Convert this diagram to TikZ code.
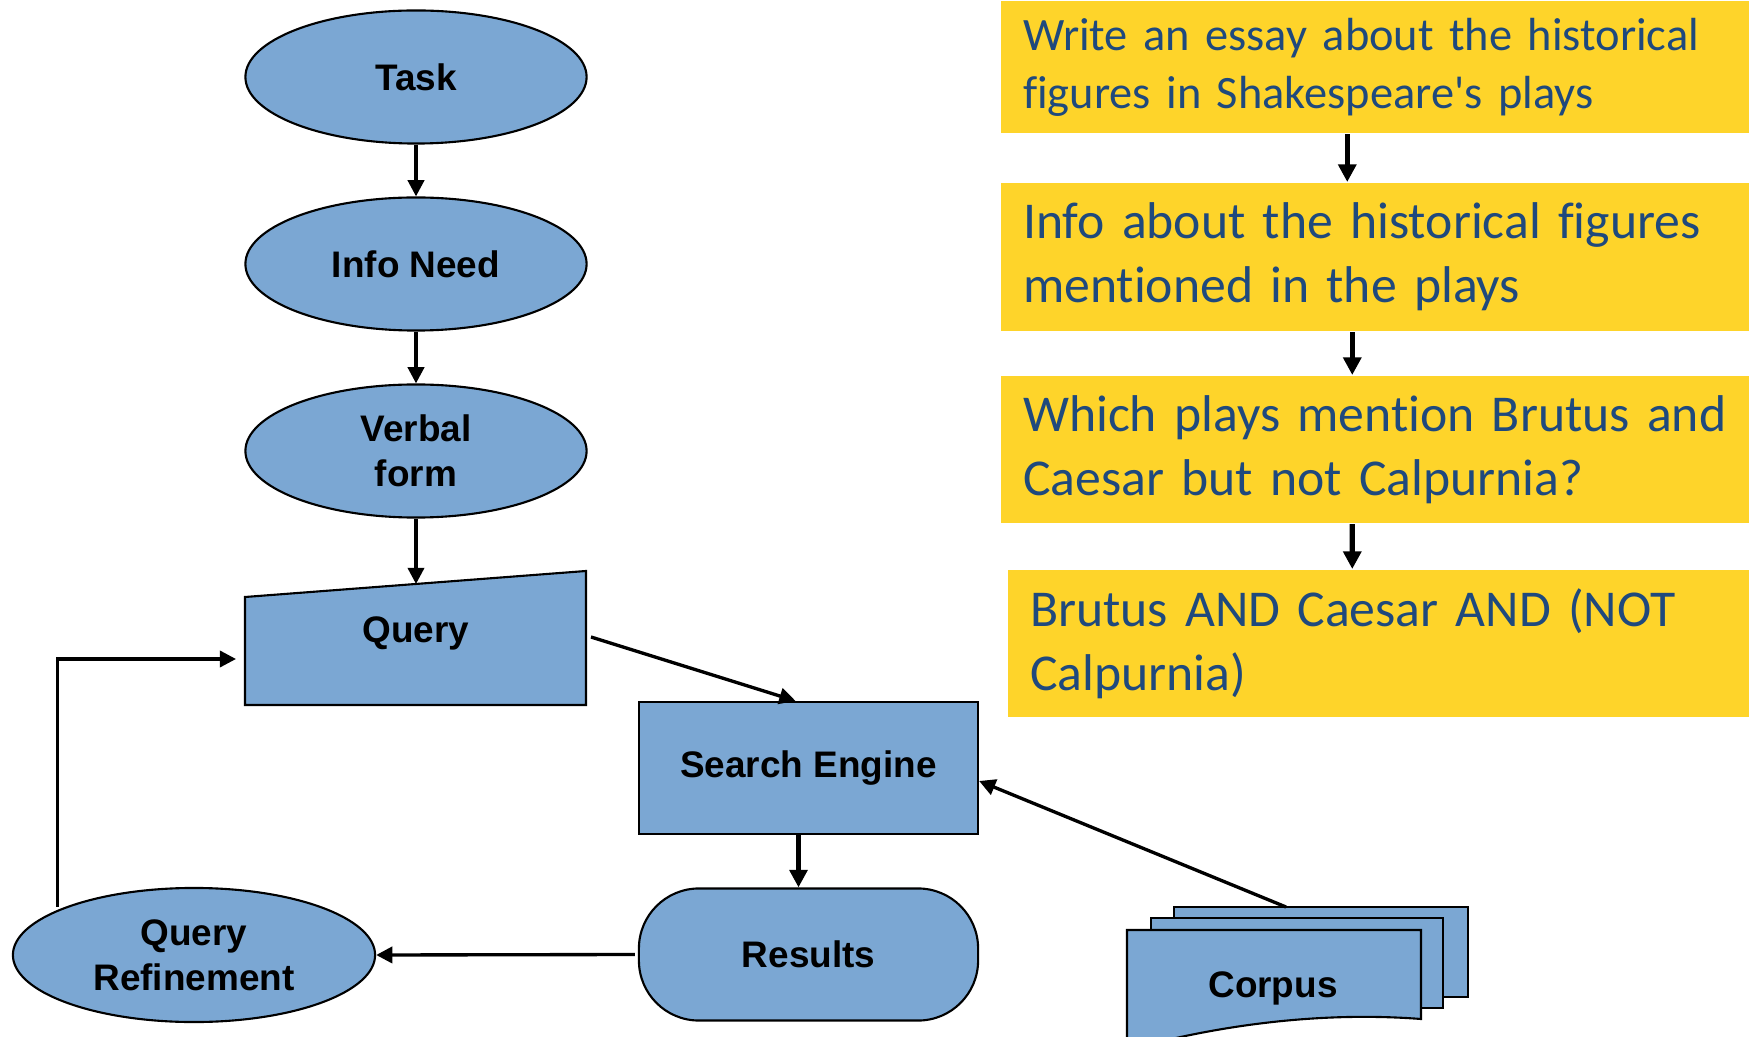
\documentclass[tikz,border=0pt]{standalone}
\usepackage{fontspec}
\usetikzlibrary{shapes.geometric,arrows.meta}
\newfontfamily\arialfont{Liberation Sans}
\newfontfamily\calibrifont[Ligatures={NoCommon}]{Carlito}
\definecolor{shapeblue}{HTML}{7BA7D3}
\definecolor{noteyellow}{HTML}{FED42A}
\definecolor{notetext}{HTML}{1F497D}

\begin{document}
\begin{tikzpicture}[x=0.01cm,y=-0.01cm,line width=0.6pt,
blockfont/.style={font=\arialfont\bfseries\fontsize{10.5}{12.8}\selectfont},
flowellipse/.style={ellipse,draw,fill=shapeblue,minimum width=3.41cm,%
minimum height=1.33cm,inner sep=0pt,align=center,blockfont},
flowbox/.style={rectangle,draw,fill=shapeblue,minimum width=3.39cm,%
minimum height=1.32cm,align=center,blockfont},
flowarrow/.style={-{Triangle[length=4.6pt,width=4.6pt]},line width=0.95pt},
thickarrow/.style={-{Triangle[length=5pt,width=5pt]},line width=1.5pt},
note/.style={rectangle,fill=noteyellow,anchor=north west,text width=7.27cm,%
inner xsep=0.22cm,inner ysep=0pt,align=left,text=notetext,%
font=\calibrifont\fontsize{14.7}{18.2}\selectfont,minimum height=1.47cm}]
\useasboundingbox (0,0) rectangle (1749,1037);

% left column
\node[flowellipse] (task) at (416,77) {Task};
\node[flowellipse] (need) at (416,264) {Info Need};
\node[flowellipse] (verbal) at (416,451) {Verbal\\form};

\draw[fill=shapeblue] (245,597)--(586,571)--(586,705)--(245,705)--cycle; % manual input
\node[blockfont] (query) at (416,633) {Query};
\coordinate (qtop) at (416,584);
\coordinate (qleft) at (236,659);
\coordinate (qright) at (591,637);

\node[flowbox] (engine) at (808.5,768) {Search Engine};
\node[flowbox,rounded corners=0.6cm] (results) at (808.5,954.5) {Results};
\node[flowellipse,minimum width=3.62cm,minimum height=1.34cm] (refine) at (194,955) {Query\\Refinement};

% stack of documents
\draw[fill=shapeblue] (1174,907) rectangle (1468,997);
\draw[fill=shapeblue] (1151,918) rectangle (1443,1008);
\draw[fill=shapeblue] (1127,930)--(1421,930)--(1421,1019)
  .. controls (1330,1012) and (1230,1022) .. (1127,1050)--cycle;
\node[blockfont] (corpus) at (1273,988) {Corpus};
\coordinate (ctop) at (1286,907);

\draw[flowarrow] (task)--(need);
\draw[flowarrow] (need)--(verbal);
\draw[flowarrow] (verbal)--(qtop);
\draw[flowarrow] (qright)--([xshift=-0.13cm]engine.north);
\draw[thickarrow] ([xshift=-0.1cm]engine.south)--([xshift=-0.1cm]results.north);
\draw[flowarrow] ([xshift=-0.03cm]results.west)--(refine.east);
\draw[flowarrow] ([xshift=-0.08cm]refine.north west) |- (qleft);
\draw[flowarrow] (ctop)--([yshift=-0.13cm]engine.east);

% right column, the example
\node[note,font=\calibrifont\fontsize{13.2}{16.5}\selectfont,%
minimum height=1.32cm] (goal) at (1000,0)
  {Write an essay about the historical\\figures in Shakespeare\textquotesingle s plays};
\node[note,minimum height=1.48cm] (infoneed) at (1000,182)
  {Info about the historical figures\\mentioned in the plays};
\node[note] (question) at (1000,375)
  {Which plays mention Brutus and\\Caesar but not Calpurnia?};
\node[note] (boolean) at (1007,569)
  {Brutus AND Caesar AND (NOT\\Calpurnia)};

\draw[thickarrow] ([xshift=-0.395cm]goal.south)--([xshift=-0.395cm]infoneed.north);
\draw[thickarrow] ([xshift=-0.345cm]infoneed.south)--([xshift=-0.345cm]question.north);
\draw[thickarrow] ([xshift=-0.345cm]question.south)--([xshift=-0.415cm]boolean.north);

\end{tikzpicture}
\end{document}
